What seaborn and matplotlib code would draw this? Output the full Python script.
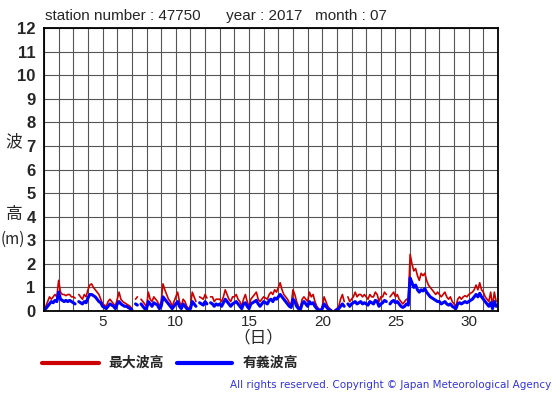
import numpy as np
import pandas as pd
import matplotlib
matplotlib.use("Agg")
import matplotlib.pyplot as plt
import seaborn as sns

nan = np.nan
days = list(range(1, 32))
hours = [0, 3, 6, 9, 12, 15, 18, 21]

sig_wave = [
    0.05, 0.1, 0.2, 0.3, 0.4, 0.35, 0.45, 0.4,
    0.8, 0.5, 0.45, 0.4, 0.45, 0.4, 0.45, 0.4,
    0.35, 0.3, nan, 0.4, 0.35, 0.3, 0.4, 0.35,
    0.55, 0.7, 0.7, 0.65, 0.6, 0.5, 0.4, 0.35,
    0.2, 0.15, 0.1, 0.2, 0.3, 0.25, 0.2, 0.1,
    0.3, 0.4, 0.3, 0.25, 0.2, 0.2, 0.15, 0.1,
    0.05, nan, 0.3, 0.25, nan, 0.3, 0.2, 0.1,
    0.1, 0.4, 0.3, 0.2, 0.35, 0.3, 0.25, 0.1,
    0.2, 0.6, 0.5, 0.4, 0.3, 0.2, 0.1, 0.2,
    0.3, 0.4, 0.2, 0.1, 0.3, 0.2, 0.1, 0.05,
    0.1, 0.4, 0.3, 0.2, nan, 0.35, 0.3, 0.25,
    0.4, 0.3, nan, 0.35, 0.3, 0.2, 0.3, 0.25,
    0.3, 0.2, 0.35, 0.5, 0.4, 0.3, 0.2, 0.3,
    0.35, 0.4, 0.3, 0.2, 0.1, 0.3, 0.35, 0.2,
    0.1, 0.3, 0.35, 0.4, 0.45, 0.3, 0.2, 0.3,
    0.4, 0.35, 0.3, 0.45, 0.5, 0.4, 0.55, 0.5,
    0.6, 0.7, 0.6, 0.5, 0.4, 0.3, 0.2, 0.15,
    0.5, 0.4, 0.2, 0.1, 0.05, 0.3, 0.4, 0.3,
    0.2, 0.4, 0.3, 0.35, 0.2, 0.1, 0.05, 0.0,
    0.1, 0.3, 0.2, 0.1, 0.05, 0.0, nan, 0.0,
    0.05, 0.1, 0.2, 0.3, 0.2, nan, 0.3, 0.2,
    0.3, 0.35, 0.4, 0.3, 0.35, 0.4, 0.3, 0.35,
    0.3, 0.25, 0.4, 0.35, 0.3, 0.45, 0.4, 0.2,
    0.3, 0.35, 0.45, 0.4, nan, 0.3, 0.4, 0.45,
    0.35, 0.4, 0.3, 0.2, 0.15, 0.2, 0.3, 0.25,
    1.4, 1.2, 1.0, 1.1, 0.9, 0.8, 0.9, 0.85,
    0.95, 0.8, 0.7, 0.6, 0.55, 0.5, 0.45, 0.4,
    0.4, 0.3, 0.35, 0.4, 0.3, 0.25, 0.3, 0.2,
    0.15, 0.1, 0.3, 0.35, 0.3, 0.35, 0.4, 0.35,
    0.4, 0.45, 0.5, 0.6, 0.7, 0.6, 0.75, 0.6,
    0.5, 0.4, 0.3, 0.2, 0.35, 0.1, 0.4, 0.2,
]

max_wave = [
    0.1, 0.2, 0.4, 0.6, 0.5, 0.6, 0.7, 0.6,
    1.3, 0.8, 0.7, 0.7, 0.65, 0.7, 0.7, 0.6,
    0.6, 0.55, nan, 0.7, 0.6, 0.5, 0.7, 0.6,
    0.9, 1.1, 1.15, 1.0, 0.9, 0.8, 0.7, 0.5,
    0.3, 0.25, 0.2, 0.4, 0.5, 0.4, 0.3, 0.2,
    0.5, 0.8, 0.5, 0.4, 0.35, 0.3, 0.25, 0.2,
    0.1, nan, 0.5, 0.6, nan, 0.5, 0.4, 0.3,
    0.2, 0.8, 0.5, 0.4, 0.6, 0.5, 0.4, 0.2,
    0.4, 1.15, 0.9, 0.7, 0.5, 0.4, 0.2, 0.4,
    0.6, 0.8, 0.4, 0.2, 0.5, 0.4, 0.2, 0.1,
    0.2, 0.8, 0.6, 0.4, nan, 0.6, 0.55, 0.5,
    0.7, 0.55, nan, 0.6, 0.6, 0.4, 0.5, 0.5,
    0.5, 0.4, 0.6, 0.9, 0.7, 0.5, 0.4, 0.6,
    0.6, 0.7, 0.5, 0.4, 0.2, 0.5, 0.7, 0.4,
    0.2, 0.5, 0.6, 0.7, 0.8, 0.5, 0.4, 0.5,
    0.6, 0.55, 0.5, 0.7, 0.8, 0.7, 0.9, 0.8,
    1.0, 1.2, 0.9, 0.7, 0.6, 0.5, 0.35, 0.25,
    0.9, 0.7, 0.4, 0.2, 0.1, 0.5, 0.6, 0.5,
    0.4, 0.8, 0.6, 0.7, 0.4, 0.2, 0.1, 0.0,
    0.2, 0.6, 0.4, 0.2, 0.1, 0.05, nan, 0.05,
    0.1, 0.2, 0.5, 0.7, 0.4, nan, 0.6, 0.4,
    0.5, 0.6, 0.8, 0.6, 0.7, 0.7, 0.6, 0.7,
    0.6, 0.5, 0.7, 0.6, 0.6, 0.8, 0.7, 0.4,
    0.6, 0.6, 0.8, 0.7, nan, 0.6, 0.7, 0.8,
    0.6, 0.7, 0.5, 0.4, 0.3, 0.4, 0.5, 0.45,
    2.4, 2.0, 1.7, 1.8, 1.5, 1.3, 1.6, 1.5,
    1.6, 1.3, 1.1, 1.0, 0.9, 0.8, 0.7, 0.8,
    0.7, 0.6, 0.7, 0.8, 0.6, 0.5, 0.6, 0.4,
    0.3, 0.2, 0.5, 0.6, 0.5, 0.6, 0.65, 0.6,
    0.7, 0.75, 0.8, 0.9, 1.1, 0.9, 1.2, 0.9,
    0.8, 0.6, 0.5, 0.4, 0.8, 0.2, 0.8, 0.4,
]

x_ticks = [5, 10, 15, 20, 25, 30]
y_ticks = list(range(0, 13))
title_text = "station number : 47750      year : 2017   month : 07"
legend_labels = ["最大波高", "有義波高"]
copyright_text = "All rights reserved. Copyright © Japan Meteorological Agency"

time = [d + h / 24 for d in days for h in hours]


def segmented(values):
    # split the series into runs between missing values so gaps stay open
    seg, out_t, out_v, out_s = 0, [], [], []
    for t, v in zip(time, values):
        if np.isnan(v):
            seg += 1
            continue
        out_t.append(t)
        out_v.append(v)
        out_s.append(seg)
    return pd.DataFrame({"time": out_t, "height": out_v, "seg": out_s})


df_max = segmented(max_wave)
df_sig = segmented(sig_wave)

sns.set_theme(style="white")
plt.rcParams["font.family"] = ["Liberation Sans", "Noto Sans CJK JP"]

fig = plt.figure(figsize=(5.55, 3.95), dpi=100)
ax = fig.add_axes([44 / 555, 84 / 395, 454 / 555, 283 / 395])

red = "#cc0000"
blue = "#0000ff"
sns.lineplot(data=df_max, x="time", y="height", units="seg", estimator=None,
             ax=ax, color=red, lw=1.2)
sns.lineplot(data=df_sig, x="time", y="height", units="seg", estimator=None,
             ax=ax, color=blue, lw=2.2)

ax.set_xlim(1, 32)
ax.set_ylim(0, 12)
ax.set_xticks(range(1, 33), minor=True)
ax.set_xticks(x_ticks)
ax.set_yticks(y_ticks)
ax.grid(True, which="both", color="#555555", lw=0.8)
ax.set_axisbelow(True)
ax.set_xlabel("")
ax.set_ylabel("")
for s in ax.spines.values():
    s.set_color("black")
    s.set_linewidth(1.3)
ax.tick_params(axis="x", which="both", length=0, labelsize=11, pad=3)
ax.tick_params(axis="y", which="both", length=4, color="black", labelsize=12, pad=2)
for lbl in ax.get_yticklabels():
    lbl.set_fontweight("bold")

fig.text(45 / 555, 1 - 16 / 395, title_text, fontsize=11, va="center", ha="left")
jp = ["Noto Sans CJK JP", "DejaVu Sans"]
fig.text(14 / 555, 1 - 142 / 395, "波", fontsize=12, ha="center", va="center", family=jp)
fig.text(14 / 555, 1 - 215 / 395, "高", fontsize=12, ha="center", va="center", family=jp)
fig.text(13 / 555, 1 - 239 / 395, "(m)", fontsize=11, ha="center", va="center", family=jp)
fig.text(258 / 555, 1 - 338 / 395, "（日）", fontsize=12, ha="center", va="center", family=jp)

# legend
fig.lines.append(plt.Line2D([42 / 555, 99 / 555], [1 - 363 / 395] * 2, transform=fig.transFigure, color=red, lw=3))
fig.text(108 / 555, 1 - 363 / 395, legend_labels[0], fontsize=10, fontweight="bold", va="center", ha="left", family=jp)
fig.lines.append(plt.Line2D([177 / 555, 232 / 555], [1 - 363 / 395] * 2, transform=fig.transFigure, color=blue, lw=3))
fig.text(243 / 555, 1 - 363 / 395, legend_labels[1], fontsize=10, fontweight="bold", va="center", ha="left", family=jp)

fig.text(551 / 555, 1 - 385 / 395, copyright_text, fontsize=7.5, color="#3333dd", ha="right", va="center",
         family=["DejaVu Sans"])

fig.savefig("out.png", dpi=100, facecolor="white")
